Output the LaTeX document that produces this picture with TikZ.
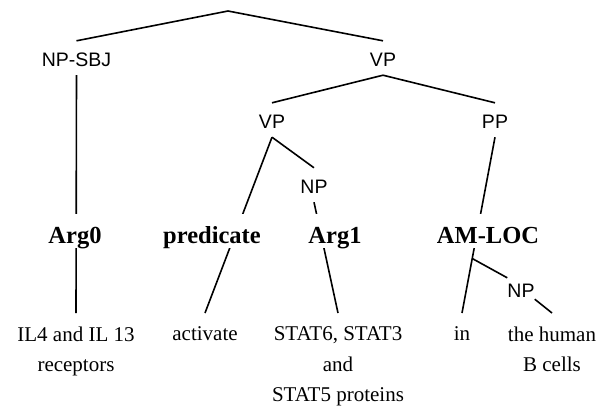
\documentclass[tikz,border=0pt]{standalone}
\usepackage{fontspec}
\setmainfont{Liberation Serif}
\setsansfont{Liberation Sans}
\usetikzlibrary{calc}

\tikzset{
  cat/.style={font=\sffamily\fontsize{19.5}{23}\selectfont, anchor=base,
    inner sep=0pt, text height=25pt, text depth=9pt},
  role/.style={font=\bfseries\fontsize{24.5}{28}\selectfont, anchor=base,
    inner xsep=2pt, inner ysep=0pt, text height=29pt, text depth=5pt,
    fill=white},
  word/.style={font=\fontsize{21}{30.5}\selectfont, align=center,
    anchor=north, inner xsep=0pt, inner ysep=13.5pt},
  branch/.style={line width=1.6pt},
}

\begin{document}
\begin{tikzpicture}[x=1pt, y=-1pt]
  \useasboundingbox (0,0) rectangle (603,408);

  % syntactic categories
  \coordinate (S) at (228,11);
  \node[cat] (npsbj) at (76.5,66) {NP-SBJ};
  \node[cat] (vp) at (383,66) {VP};
  \node[cat] (vpb) at (272,128) {VP};
  \node[cat] (pp) at (495,128) {PP};
  \node[cat] (npb) at (314,193) {NP};
  \node[cat, text height=19pt, text depth=2pt] (npc) at (521,297) {NP};

  % words
  \node[word] (il) at (76,313) {IL4 and IL 13\\receptors};
  \node[word] (act) at (205,313) {activate};
  \node[word] (stat) at (338,313) {STAT6, STAT3\\and\\STAT5 proteins};
  \node[word] (in) at (462,313) {in};
  \node[word] (human) at (552,313) {the human\\B cells};

  % branches
  \draw[branch] (S) -- (npsbj.north);
  \draw[branch] (S) -- (vp.north);
  \draw[branch] (vp.south) -- (vpb.north);
  \draw[branch] (vp.south) -- (pp.north);
  \draw[branch] (npsbj.south) -- (il.north);
  \draw[branch] (vpb.south) -- (act.north);
  \draw[branch] (vpb.south) -- (npb.north);
  \draw[branch] (npb.south) -- (stat.north);
  \draw[branch] (pp.south) -- coordinate[pos=0.69] (fork) (in.north);
  \draw[branch] (fork) -- (npc.north west);
  \draw[branch] (npc.south east) -- (human.north);

  % semantic roles, laid over the branches
  \node[role] (arg0) at (75,243) {Arg0};
  \node[role] (pred) at (212,243) {predicate};
  \node[role] (arg1) at (335,243) {Arg1};
  \node[role] (amloc) at (488,243) {AM-LOC};
\end{tikzpicture}
\end{document}
